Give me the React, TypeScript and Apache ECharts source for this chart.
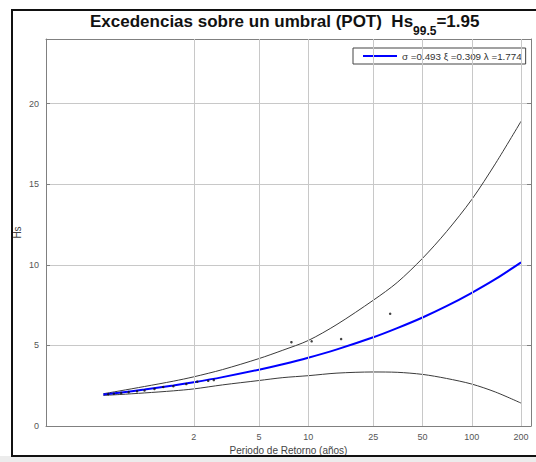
import React, { useEffect, useRef } from "react";
import * as echarts from "echarts";

// Return period (years) for the fitted curves
const periods = [0.56, 0.7, 1, 1.5, 2, 3, 5, 7, 10, 15, 25, 35, 50, 70, 100, 140, 200];
// Fitted GPD return level (blue)
const fitted = [1.95, 2.06, 2.26, 2.51, 2.71, 3.03, 3.49, 3.83, 4.23, 4.75, 5.5, 6.07, 6.73, 7.43, 8.26, 9.12, 10.15];
// Upper confidence band
const upper = [2.0, 2.17, 2.45, 2.78, 3.05, 3.5, 4.18, 4.7, 5.3, 6.3, 7.8, 8.9, 10.4, 12.05, 14.05, 16.3, 18.9];
// Lower confidence band
const lower = [1.9, 1.95, 2.05, 2.18, 2.3, 2.55, 2.82, 3.0, 3.12, 3.28, 3.35, 3.33, 3.2, 2.95, 2.6, 2.1, 1.42];
// Observed exceedances (empirical return period, Hs)
const obsPeriods = [0.6, 0.65, 0.72, 0.8, 0.9, 1.0, 1.15, 1.3, 1.5, 1.8, 2.1, 2.45, 2.65, 7.9, 10.5, 15.9, 31.7];
const obsHs = [1.97, 2.0, 2.05, 2.1, 2.15, 2.2, 2.3, 2.42, 2.47, 2.6, 2.75, 2.8, 2.85, 5.2, 5.25, 5.39, 6.96];
// Axis ticks
const xTickValues = [2, 5, 10, 25, 50, 100, 200];
const xTickLabels = ["2", "5", "10", "25", "50", "100", "200"];
const yTickStep = 5;
const legendLabel = "σ =0.493 ξ =0.309 λ =1.774";

const lg = (v: number) => Math.log10(v);

export default function App() {
  const ref = useRef<HTMLDivElement>(null);
  useEffect(() => {
    if (!ref.current) return;
    const chart = echarts.init(ref.current, null, { renderer: "svg" });
    const xTicks = xTickValues.map(lg);
    const font = "Liberation Sans, Arial, Helvetica, sans-serif";
    const axisGray = "#808080";
    const gridGray = "#c8c8c8";
    const xMin = lg(0.25);
    const xMax = lg(230);
    const yMax = 24;
    const tickStyle = { show: true, inside: true, length: 4, lineStyle: { color: axisGray } };

    chart.setOption({
      animation: false,
      backgroundColor: "#ffffff",
      textStyle: { fontFamily: font },
      title: {
        left: 85,
        top: 8,
        text: "{a|Excedencias sobre un umbral (POT)  Hs}{b|99.5}{a|=1.95}",
        textStyle: {
          rich: {
            a: { fontSize: 17, fontWeight: "bold", color: "#111", lineHeight: 21, verticalAlign: "top", fontFamily: font },
            b: { fontSize: 12, fontWeight: "bold", color: "#111", lineHeight: 13, padding: [12, 0, 0, 0], verticalAlign: "top", fontFamily: font },
          },
        },
      },
      legend: {
        left: 353,
        top: 48,
        data: [{ name: legendLabel, icon: "rect" }],
        itemWidth: 34,
        itemHeight: 2,
        itemGap: 4,
        padding: [3, 4, 3, 10],
        backgroundColor: "#fff",
        borderColor: "#444",
        borderWidth: 1,
        textStyle: { fontSize: 9.8, color: "#333", fontFamily: font },
      },
      graphic: [
        { type: "rect", left: 0, top: 456, shape: { width: 536, height: 6 }, style: { fill: "#ececec" }, silent: true },
        { type: "rect", shape: { x: 12, y: 10, width: 530, height: 446 }, style: { fill: "none", stroke: "#111", lineWidth: 2 }, silent: true, z: 100 },
      ],
      grid: { left: 46, right: 5, top: 39, bottom: 36 },
      xAxis: [
        {
          type: "value",
          min: xMin,
          max: xMax,
          name: "Periodo de Retorno (años)",
          nameLocation: "middle",
          nameGap: 19,
          nameMoveOverlap: false,
          nameTextStyle: { fontSize: 10, color: "#444", fontFamily: font },
          axisLine: { show: true, onZero: false, lineStyle: { color: axisGray } },
          axisTick: { ...tickStyle, customValues: xTicks },
          axisLabel: {
            customValues: xTicks,
            margin: 6,
            fontSize: 9,
            color: "#555",
            formatter: (v: number) => {
              const i = xTicks.findIndex((t) => Math.abs(t - v) < 1e-6);
              return i >= 0 ? xTickLabels[i] : "";
            },
          },
          splitLine: { show: false },
        },
        {
          type: "value",
          position: "top",
          min: xMin,
          max: xMax,
          axisLine: { show: true, onZero: false, lineStyle: { color: axisGray } },
          axisTick: { ...tickStyle, customValues: xTicks },
          axisLabel: { show: false },
          splitLine: { show: false },
        },
      ],
      yAxis: [
        {
          type: "value",
          min: 0,
          max: yMax,
          interval: yTickStep,
          name: "Hs",
          nameLocation: "middle",
          nameGap: 24,
          nameRotate: 90,
          nameMoveOverlap: false,
          nameTextStyle: { fontSize: 10, color: "#444", fontFamily: font },
          axisLine: { show: true, onZero: false, lineStyle: { color: axisGray } },
          axisTick: { ...tickStyle },
          axisLabel: { fontSize: 9, color: "#555", margin: 7, showMaxLabel: false },
          splitLine: { show: true, lineStyle: { color: gridGray, width: 1 } },
        },
        {
          type: "value",
          position: "right",
          min: 0,
          max: yMax,
          interval: yTickStep,
          axisLine: { show: true, onZero: false, lineStyle: { color: axisGray } },
          axisTick: { ...tickStyle },
          axisLabel: { show: false },
          splitLine: { show: false },
        },
      ],
      series: [
        {
          name: "xgrid",
          type: "line",
          data: [],
          silent: true,
          markLine: {
            silent: true,
            symbol: ["none", "none"],
            label: { show: false },
            emphasis: { disabled: true },
            lineStyle: { color: gridGray, type: "solid", width: 1, opacity: 1 },
            data: xTicks.map((v) => [{ coord: [v, 0] }, { coord: [v, yMax] }]),
          },
          z: 1,
        },
        {
          name: "upper",
          type: "line",
          smooth: 0.3,
          showSymbol: false,
          data: periods.map((t, i) => [lg(t), upper[i]]),
          lineStyle: { color: "#3a3a3a", width: 1 },
          z: 3,
        },
        {
          name: "lower",
          type: "line",
          smooth: 0.3,
          showSymbol: false,
          data: periods.map((t, i) => [lg(t), lower[i]]),
          lineStyle: { color: "#3a3a3a", width: 1 },
          z: 3,
        },
        {
          name: legendLabel,
          type: "line",
          smooth: 0.3,
          showSymbol: false,
          data: periods.map((t, i) => [lg(t), fitted[i]]),
          lineStyle: { color: "#0000ff", width: 2 },
          itemStyle: { color: "#0000ff" },
          z: 4,
        },
        {
          name: "obs",
          type: "scatter",
          symbolSize: 2.5,
          data: obsPeriods.map((t, i) => [lg(t), obsHs[i]]),
          itemStyle: { color: "#111" },
          z: 5,
        },
      ],
    });
    return () => chart.dispose();
  }, []);
  return <div ref={ref} style={{ position: "fixed", left: 0, top: 0, width: 536, height: 462 }} />;
}
